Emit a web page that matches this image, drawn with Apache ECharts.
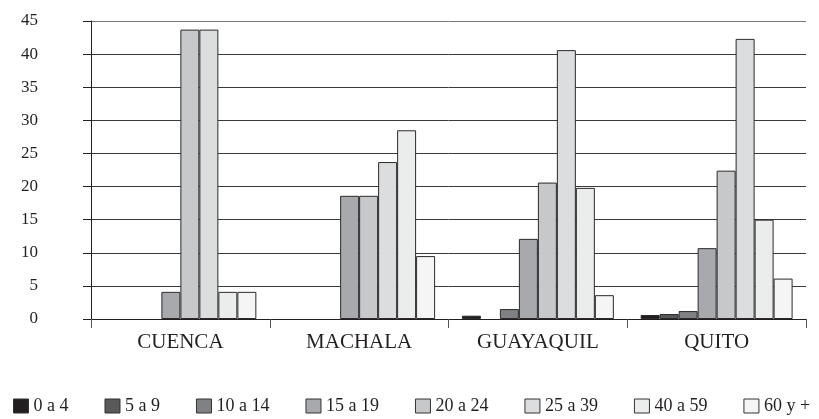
<!DOCTYPE html>
<html>
<head>
<meta charset="utf-8">
<script src="https://cdn.jsdelivr.net/npm/echarts@6/dist/echarts.min.js"></script>
<style>html,body{margin:0;padding:0;background:#fff}#c{width:819px;height:419px}</style>
</head>
<body>
<div id="c"></div>
<script>
const categories = ['CUENCA', 'MACHALA', 'GUAYAQUIL', 'QUITO'];
const seriesNames = ['0 a 4', '5 a 9', '10 a 14', '15 a 19', '20 a 24', '25 a 39', '40 a 59', '60 y +'];
const yTicks = [0, 5, 10, 15, 20, 25, 30, 35, 40, 45];
const s0a4   = [null, null, 0.5, 0.6];
const s5a9   = [null, null, null, 0.75];
const s10a14 = [null, null, 1.5, 1.2];
const s15a19 = [4.1, 18.6, 12.1, 10.7];
const s20a24 = [43.7, 18.6, 20.6, 22.4];
const s25a39 = [43.7, 23.7, 40.6, 42.3];
const s40a59 = [4.1, 28.5, 19.8, 15.0];
const s60    = [4.1, 9.5, 3.6, 6.1];
const seriesData = [s0a4, s5a9, s10a14, s15a19, s20a24, s25a39, s40a59, s60];
const colors = ['#231f20', '#58595b', '#808184', '#a7a9ac', '#c7c8ca', '#dcdddf', '#ebecec', '#f5f5f5'];

const font = 'Liberation Serif';
const chart = echarts.init(document.getElementById('c'), null, {renderer: 'canvas'});
chart.setOption({
  animation: false,
  backgroundColor: '#fff',
  color: colors,
  grid: {left: 91, right: 13, top: 21, bottom: 100, containLabel: false},
  legend: {
    left: 8, top: 392, width: 811, itemWidth: 15, itemHeight: 14, itemGap: 36,
    icon: 'rect',
    textStyle: {fontFamily: font, fontSize: 18, color: '#231f20'},
    itemStyle: {borderColor: '#333', borderWidth: 1},
    data: seriesNames
  },
  xAxis: {
    type: 'category', data: categories,
    axisLine: {lineStyle: {color: '#231f20', width: 1}},
    axisTick: {show: true, length: 9, lineStyle: {color: '#555'}},
    axisLabel: {fontFamily: font, fontSize: 21, color: '#231f20', margin: 13}
  },
  yAxis: {
    type: 'value', min: yTicks[0], max: yTicks[yTicks.length - 1], interval: 5,
    axisLine: {show: true, lineStyle: {color: '#231f20', width: 1}},
    axisTick: {show: true, length: 8, lineStyle: {color: '#231f20'}},
    axisLabel: {fontFamily: font, fontSize: 17, color: '#231f20', align: 'right', margin: 53},
    splitLine: {lineStyle: {color: ['#3a3a3a', '#3a3a3a', '#3a3a3a', '#3a3a3a', '#3a3a3a', '#3a3a3a', '#3a3a3a', '#3a3a3a', '#3a3a3a', '#777'], width: 1}}
  },
  series: seriesNames.map((n, i) => ({
    name: n, type: 'bar', data: seriesData[i],
    barGap: '0%', barCategoryGap: '15%',
    itemStyle: {color: colors[i], borderColor: '#2a2a2a', borderWidth: 1}
  }))
});
</script>
</body>
</html>
